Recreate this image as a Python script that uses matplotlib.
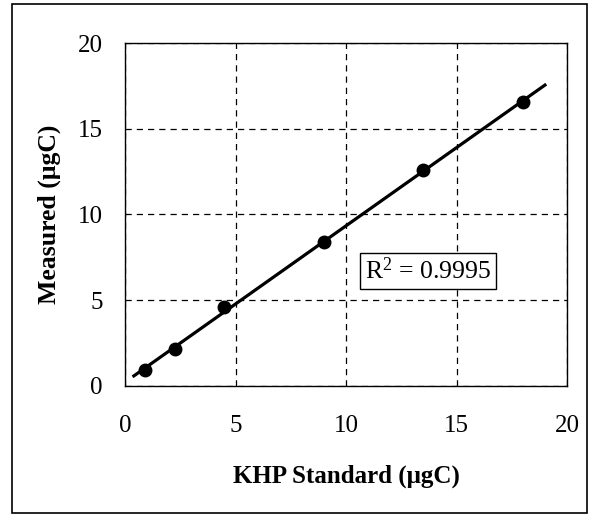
import numpy as np
import matplotlib
matplotlib.use("Agg")
import matplotlib.pyplot as plt
from matplotlib.patches import Rectangle

plt.rcParams["font.family"] = ["Liberation Serif", "DejaVu Serif"]
plt.rcParams["mathtext.fontset"] = "custom"
plt.rcParams["mathtext.rm"] = "Liberation Serif"
plt.rcParams["mathtext.it"] = "Liberation Serif"

# KHP standard vs measured carbon
standard = [0.9, 2.25, 4.5, 9.0, 13.5, 18.0]
measured = [0.93, 2.16, 4.6, 8.4, 12.6, 16.55]
fit_range = [0.4, 19.0]
r2_text = "R$^{2}$ = 0.9995"

slope, intercept = np.polyfit(standard, measured, 1)
fx = np.array(fit_range)
fy = slope * fx + intercept

fig = plt.figure(figsize=(5.9, 5.15), dpi=100)
ax = fig.add_axes([0.2119, 0.2505, 0.7492, 0.666])

ax.plot(fx, fy, color="black", lw=2.3, zorder=3)
ax.plot(standard, measured, "o", color="black", ms=9, zorder=4)

ax.set_xlim(0, 20)
ax.set_ylim(0, 20)
ax.set_xticks([0, 5, 10, 15, 20])
ax.set_yticks([0, 5, 10, 15, 20])
ax.tick_params(axis="x", length=0, pad=21, labelsize=18)
ax.tick_params(axis="y", length=0, pad=16, labelsize=18)
ax.grid(True, color="black", ls=(0, (5, 4)), lw=0.9)
for s in ax.spines.values():
    s.set_linewidth(1.0)

ax.set_xlabel("KHP Standard (μgC)", fontsize=18, fontweight="bold", labelpad=20)
ax.set_ylabel("Measured (μgC)", fontsize=18.5, fontweight="bold", labelpad=12)

ax.text(13.71, 6.7, r2_text, fontsize=18.5, ha="center", va="center", zorder=5,
        bbox=dict(boxstyle="square,pad=0.18", fc="white", ec="black", lw=1.0))

fig.patches.append(Rectangle((12 / 590, 2 / 515), 575 / 590, 509 / 515,
                             transform=fig.transFigure, fill=False,
                             ec="black", lw=1.2))

fig.savefig("out.png", dpi=100)
